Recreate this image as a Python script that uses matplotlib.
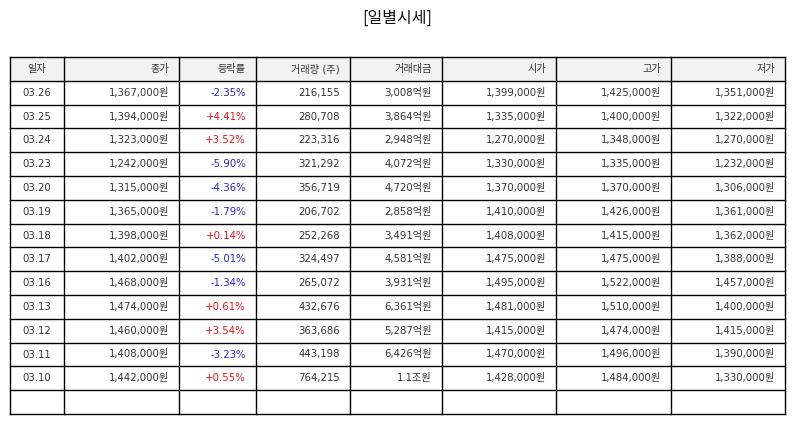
import matplotlib
matplotlib.use("Agg")
import matplotlib.pyplot as plt
from matplotlib.patches import Rectangle

plt.rcParams['font.family'] = ['DejaVu Sans', 'Noto Sans CJK KR']

title = "[일별시세]"
headers = ["일자", "종가", "등락률", "거래량 (주)", "거래대금", "시가", "고가", "저가"]
dates = ["03.26", "03.25", "03.24", "03.23", "03.20", "03.19", "03.18", "03.17", "03.16", "03.13", "03.12", "03.11", "03.10"]
close = ["1,367,000원", "1,394,000원", "1,323,000원", "1,242,000원", "1,315,000원", "1,365,000원", "1,398,000원",
         "1,402,000원", "1,468,000원", "1,474,000원", "1,460,000원", "1,408,000원", "1,442,000원"]
change = ["-2.35%", "+4.41%", "+3.52%", "-5.90%", "-4.36%", "-1.79%", "+0.14%", "-5.01%", "-1.34%", "+0.61%",
          "+3.54%", "-3.23%", "+0.55%"]
volume = ["216,155", "280,708", "223,316", "321,292", "356,719", "206,702", "252,268", "324,497", "265,072",
          "432,676", "363,686", "443,198", "764,215"]
amount = ["3,008억원", "3,864억원", "2,948억원", "4,072억원", "4,720억원", "2,858억원", "3,491억원", "4,581억원",
          "3,931억원", "6,361억원", "5,287억원", "6,426억원", "1.1조원"]
open_ = ["1,399,000원", "1,335,000원", "1,270,000원", "1,330,000원", "1,370,000원", "1,410,000원", "1,408,000원",
         "1,475,000원", "1,495,000원", "1,481,000원", "1,415,000원", "1,470,000원", "1,428,000원"]
high = ["1,425,000원", "1,400,000원", "1,348,000원", "1,335,000원", "1,370,000원", "1,426,000원", "1,415,000원",
        "1,475,000원", "1,522,000원", "1,510,000원", "1,474,000원", "1,496,000원", "1,484,000원"]
low = ["1,351,000원", "1,322,000원", "1,270,000원", "1,232,000원", "1,306,000원", "1,361,000원", "1,362,000원",
       "1,388,000원", "1,457,000원", "1,400,000원", "1,415,000원", "1,390,000원", "1,330,000원"]

cols = [dates, close, change, volume, amount, open_, high, low]
xs = [10, 64, 179, 256, 350, 442, 556, 671, 785]
y0, rh = 57, 23.8
nrows = len(dates) + 2

fig = plt.figure(figsize=(7.94, 4.25), dpi=100)
ax = fig.add_axes([0, 0, 1, 1])
ax.set_xlim(0, 794)
ax.set_ylim(425, 0)
ax.axis('off')

ax.text(397, 18, title, ha='center', va='center', fontsize=11.5, color='#111111',
        family=['Noto Sans CJK KR', 'DejaVu Sans'])
ax.add_patch(Rectangle((xs[0], y0), xs[-1] - xs[0], rh, facecolor='#f2f2f2', edgecolor='none'))
for i in range(nrows + 1):
    ax.plot([xs[0], xs[-1]], [y0 + i * rh] * 2, color='black', lw=1)
for x in xs:
    ax.plot([x, x], [y0, y0 + nrows * rh], color='black', lw=1)

fs = 7.3
for j, h in enumerate(headers):
    cy = y0 + rh / 2
    if j == 0:
        ax.text((xs[0] + xs[1]) / 2, cy, h, ha='center', va='center', fontsize=fs, color='#333333')
    else:
        ax.text(xs[j + 1] - 10, cy, h, ha='right', va='center', fontsize=fs, color='#333333')
for r in range(len(dates)):
    cy = y0 + (r + 1.5) * rh
    for j, col in enumerate(cols):
        v = col[r]
        color = '#333333'
        if j == 2:
            color = '#e0161d' if v.startswith('+') else '#2a23c8'
        if j == 0:
            ax.text((xs[0] + xs[1]) / 2, cy, v, ha='center', va='center', fontsize=fs, color=color)
        else:
            ax.text(xs[j + 1] - 10, cy, v, ha='right', va='center', fontsize=fs, color=color)

fig.savefig("out.png", dpi=100)
